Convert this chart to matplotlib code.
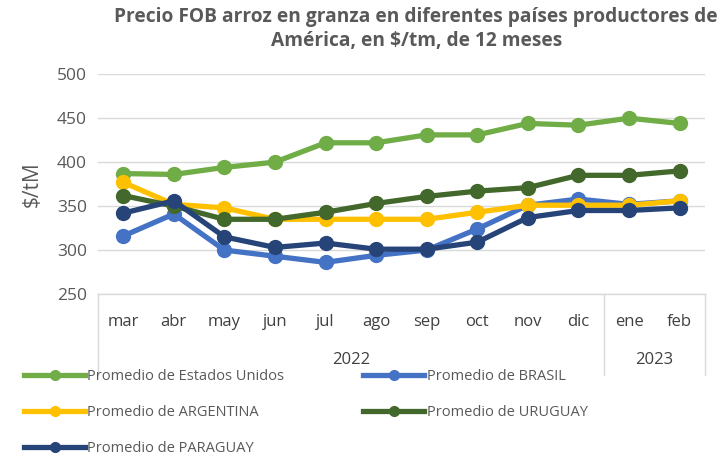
import matplotlib.pyplot as plt
import numpy as np

meses = ['mar', 'abr', 'may', 'jun', 'jul', 'ago', 'sep', 'oct', 'nov', 'dic', 'ene', 'feb']
anios = [('2022', 0, 10), ('2023', 10, 12)]

estados_unidos = [387, 386, 394, 400, 422, 422, 431, 431, 444, 442, 450, 444]
brasil = [316, 341, 300, 293, 286, 294, 300, 324, 351, 358, 352, 356]
argentina = [377, 352, 348, 335, 335, 335, 335, 343, 351, 351, 351, 356]
uruguay = [362, 350, 335, 335, 343, 353, 361, 367, 371, 385, 385, 390]
paraguay = [342, 356, 315, 303, 308, 301, 301, 309, 337, 345, 345, 348]

series = [
    ('Promedio de Estados Unidos', estados_unidos, '#70AD47'),
    ('Promedio de BRASIL', brasil, '#4472C4'),
    ('Promedio de ARGENTINA', argentina, '#FFC000'),
    ('Promedio de URUGUAY', uruguay, '#43682B'),
    ('Promedio de PARAGUAY', paraguay, '#264478'),
]


def main():
    plt.rcParams['font.family'] = ['Open Sans', 'DejaVu Sans']
    fig = plt.figure(figsize=(7.2, 4.58), dpi=100)
    ax = fig.add_axes([0.136, 0.358, 0.843, 0.48])

    x = np.arange(len(meses))
    handles = []
    for nombre, valores, color in series:
        h, = ax.plot(x, valores, color=color, lw=3.8, marker='o', ms=10,
                     label=nombre)
        handles.append(h)

    ax.set_xlim(-0.5, len(meses) - 0.5)
    ax.set_ylim(250, 500)
    ax.set_yticks(np.arange(250, 501, 50))
    ax.tick_params(axis='y', length=0, labelsize=12.5, colors='#595959', pad=8)
    ax.yaxis.grid(True, color='#D9D9D9', lw=1)
    ax.set_axisbelow(True)
    for s in ax.spines.values():
        s.set_visible(False)
    ax.set_xticks([])
    ax.set_ylabel('$/tM', fontsize=15, color='#595959', labelpad=10)

    # eje de categorias (meses + anios)
    trans = ax.get_xaxis_transform()
    for i, m in enumerate(meses):
        ax.text(i, -0.125, m, transform=trans, ha='center', va='center',
                fontsize=12, color='#404040')
    for anio, a, b in anios:
        ax.text((a + b - 1) / 2, -0.3, anio, transform=trans, ha='center',
                va='center', fontsize=12, color='#404040')
    for xs in [-0.5, 9.5, 11.5]:
        ax.plot([xs, xs], [0, -0.37], transform=trans, color='#D9D9D9',
                lw=1, clip_on=False)
    ax.plot([-0.5, 11.5], [0, 0], transform=trans, color='#D9D9D9', lw=1,
            clip_on=False)

    fig.suptitle('Precio FOB arroz en granza en diferentes países productores de\n'
                 'América, en $/tm, de 12 meses', x=0.578, y=0.985,
                 fontsize=13.8, fontweight='bold', color='#595959', linespacing=1.3)

    orden = [0, 2, 4, 1, 3]
    fig.legend(handles=[handles[i] for i in orden], loc='lower left',
               bbox_to_anchor=(0.015, -0.025), ncol=2, frameon=False,
               fontsize=10.5, labelcolor='#595959', handlelength=4.2,
               handletextpad=0.15, columnspacing=5.4, labelspacing=1.45,
               markerscale=0.7)

    plt.savefig('out.png', dpi=100)


if __name__ == "__main__":
    main()
